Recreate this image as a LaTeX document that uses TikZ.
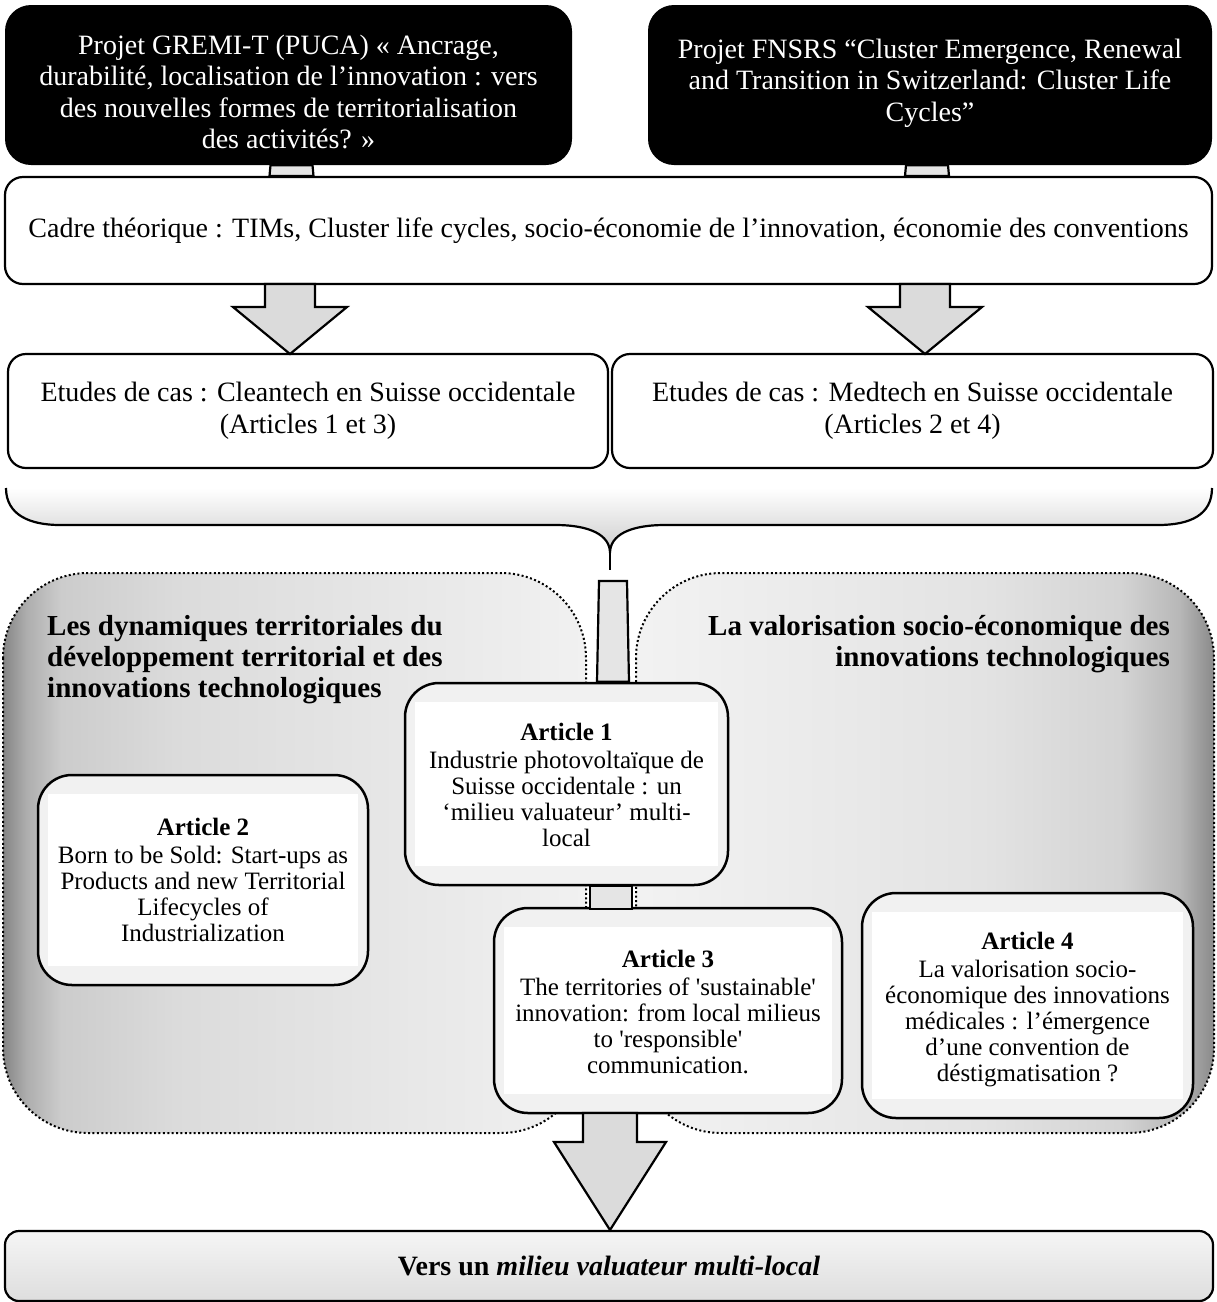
\documentclass[tikz,border=0pt]{standalone}
\usepackage{fontspec}
\setmainfont{Liberation Serif}
\usetikzlibrary{calc}

% greys
\definecolor{framegray}{gray}{0.945}
\definecolor{conngray}{gray}{0.90}
\definecolor{arrowgray}{gray}{0.86}
\definecolor{zlA}{gray}{0.52}
\definecolor{zlB}{gray}{0.68}
\definecolor{zlC}{gray}{0.80}
\definecolor{zlD}{gray}{0.86}
\definecolor{zlE}{gray}{0.945}
\definecolor{zrA}{gray}{0.95}
\definecolor{zrB}{gray}{0.89}
\definecolor{zrC}{gray}{0.83}
\definecolor{zrD}{gray}{0.72}
\definecolor{zrE}{gray}{0.54}

% side-lit backgrounds of the two thematic zones
\pgfdeclarehorizontalshading{leftzone}{100bp}{color(0bp)=(zlA); color(25bp)=(zlA); color(27bp)=(zlB); color(30bp)=(zlC); color(40bp)=(zlD); color(75bp)=(zlE); color(100bp)=(zlE)}
\pgfdeclarehorizontalshading{rightzone}{100bp}{color(0bp)=(zrA); color(25bp)=(zrA); color(55bp)=(zrB); color(67bp)=(zrC); color(72bp)=(zrD); color(75bp)=(zrE); color(100bp)=(zrE)}

\newcommand{\blockdown}[6]{% x, top, head, tip, shaft half-width, head half-width
  \draw[blockarrow] (#1-#5,#2) -- (#1-#5,#3) -- (#1-#6,#3) -- (#1,#4)
    -- (#1+#6,#3) -- (#1+#5,#3) -- (#1+#5,#2) -- cycle;}

\begin{document}
\begin{tikzpicture}[x=1pt,y=-1pt,
  blackbox/.style={fill=black, rounded corners=26, inner sep=0pt},
  blacktext/.style={text=white, align=center, inner sep=0pt,
    font=\fontsize{28}{31.5}\selectfont},
  whitebox/.style={draw, line width=2.2pt, fill=white, rounded corners=18,
    align=center, inner sep=0pt, font=\fontsize{28}{32}\selectfont},
  artframe/.style={draw, line width=2.5pt, fill=framegray, rounded corners=34},
  arttext/.style={align=center, inner sep=0pt, font=\fontsize{25}{26}\selectfont},
  heading/.style={inner sep=0pt, font=\bfseries\fontsize{29}{31}\selectfont},
  conn/.style={draw, line width=2.2pt, fill=conngray, line join=miter},
  blockarrow/.style={draw, line width=2.2pt, fill=arrowgray, line join=miter},
  zoneline/.style={line width=2pt, dash pattern=on 2pt off 2.4pt}
]
\useasboundingbox[fill=white] (0,0) rectangle (1217,1302);

% --- research projects
\node[blackbox, minimum width=567, minimum height=160] (gremi) at (288.5,85) {};
\node[blacktext] (gremiT) at ($(gremi.center)+(0,7)$)
  {Projet GREMI-T (PUCA) « Ancrage,\\ durabilité, localisation de l’innovation : vers\\ des nouvelles formes de territorialisation\\ des activités? »};
\node[blackbox, minimum width=564, minimum height=160] (fnsrs) at (930,85) {};
\node[blacktext] (fnsrsT) at ($(fnsrs.center)+(0,-2)$)
  {Projet FNSRS “Cluster Emergence, Renewal\\ and Transition in Switzerland: Cluster Life\\ Cycles”};

% --- theoretical frame
\node[whitebox, minimum width=1207, minimum height=107] (cadre) at (608.5,230.5)
  {Cadre théorique : TIMs, Cluster life cycles, socio-économie de l’innovation, économie des conventions};

\draw[conn] ($(gremi.south)+(-18,0)$) -- ($(gremi.south |- cadre.north)+(-19,0)$)
  -- ($(gremi.south |- cadre.north)+(25,0)$) -- ($(gremi.south)+(24,0)$) -- cycle;
\draw[conn] ($(fnsrs.south)+(-24,0)$) -- ($(fnsrs.south |- cadre.north)+(-25,0)$)
  -- ($(fnsrs.south |- cadre.north)+(19,0)$) -- ($(fnsrs.south)+(18,0)$) -- cycle;

% --- case studies
\node[whitebox, minimum width=600, minimum height=114] (casL) at (308,411)
  {Etudes de cas : Cleantech en Suisse occidentale\\ (Articles 1 et 3)};
\node[whitebox, minimum width=601, minimum height=114] (casR) at (912.5,411)
  {Etudes de cas : Medtech en Suisse occidentale\\ (Articles 2 et 4)};

\blockdown{290}{284}{307}{354}{25}{57}
\blockdown{925}{284}{307}{354}{25}{57}

% --- brace gathering both case studies
\shade[top color=white, bottom color=black!20]
  (6,488) .. controls (6,515) and (30,525) .. (60,525) -- (555,525)
  .. controls (590,525) and (610,535) .. (610,553)
  .. controls (610,535) and (630,525) .. (665,525) -- (1158,525)
  .. controls (1190,525) and (1212,515) .. (1212,488) -- cycle;
\draw[line width=2.2pt]
  (6,488) .. controls (6,515) and (30,525) .. (60,525) -- (555,525)
  .. controls (590,525) and (610,535) .. (610,553)
  .. controls (610,535) and (630,525) .. (665,525) -- (1158,525)
  .. controls (1190,525) and (1212,515) .. (1212,488);
\coordinate (bracetip) at (610,570);
\draw[line width=2.2pt] (610,553) -- (bracetip);

% --- thematic zones
\shadedraw[shading=leftzone, zoneline, rounded corners=85] (3,573) rectangle (586,1133);
\shadedraw[shading=rightzone, zoneline, rounded corners=85] (636,573) rectangle (1214,1133);

\node[heading, anchor=west, align=left] (headL) at (47,660)
  {Les dynamiques territoriales du\\ développement territorial et des\\ innovations technologiques};
\node[heading, anchor=east, align=right] (headR) at (1170,644)
  {La valorisation socio-économique des\\ innovations technologiques};

% --- articles
\node[artframe, minimum width=323, minimum height=202] (art1) at (566.5,784) {};
\node[artframe, minimum width=330, minimum height=210] (art2) at (203,880) {};
\node[artframe, minimum width=348, minimum height=205] (art3) at (668,1010.5) {};
\node[artframe, minimum width=331, minimum height=225] (art4) at (1027.5,1005.5) {};
\foreach \a in {art1,art2,art3,art4}
  \fill[white] ($(\a.north west)+(11,20)$) rectangle ($(\a.south east)+(-11,-20)$);

\node[arttext] (t1) at ($(art1.center)+(0,1)$)
  {\textbf{Article 1}\\[2pt] Industrie photovoltaïque de\\ Suisse occidentale : un\\ ‘milieu valuateur’ multi-\\ local};
\node[arttext] (t2) at (art2.center)
  {\textbf{Article 2}\\[2pt] Born to be Sold: Start-ups as\\ Products and new Territorial\\ Lifecycles of\\ Industrialization};
\node[arttext] (t3) at ($(art3.center)+(0,1)$)
  {\textbf{Article 3}\\[2pt] The territories of \textquotesingle sustainable\textquotesingle\\ innovation: from local milieus\\ to \textquotesingle responsible\textquotesingle\\ communication.};
\node[arttext] (t4) at ($(art4.center)+(0,4)$)
  {\textbf{Article 4}\\[2pt] La valorisation socio-\\ économique des innovations\\ médicales : l’émergence\\ d’une convention de\\ déstigmatisation ?};

% --- links between the brace and the articles
\draw[conn] ($(bracetip)+(-11,11)$) -- ($(art1.north)+(30.5,0)$)
  -- ($(art1.north)+(62.5,0)$) -- ($(bracetip)+(17,11)$) -- cycle;
\draw[conn] ($(art1.south)+(23.5,0)$) rectangle ($(art1.south)+(65.5,23)$);

% --- conclusion
\node[whitebox, shade, top color=black!4, bottom color=black!13, rounded corners=14,
  minimum width=1208, minimum height=70] (concl) at (609,1266)
  {\bfseries Vers un \textit{milieu valuateur multi-local}};

\blockdown{610}{1113}{1142}{1230}{27}{56}
\end{tikzpicture}
\end{document}
